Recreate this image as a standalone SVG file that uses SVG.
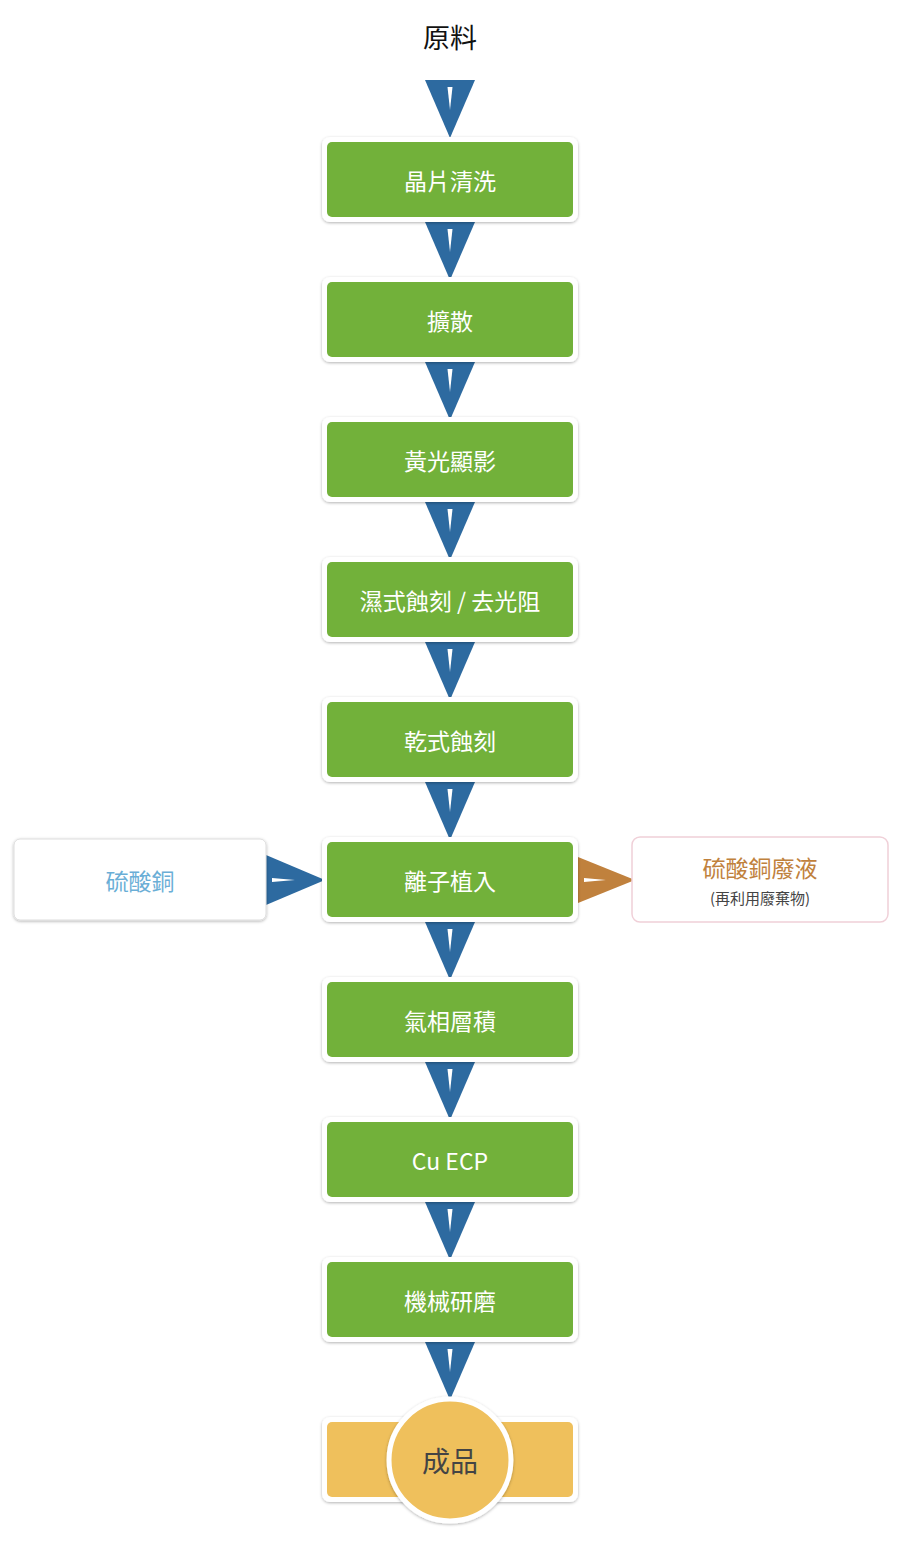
<svg xmlns="http://www.w3.org/2000/svg" width="900" height="1550" viewBox="0 0 900 1550">
<defs>
<filter id="sh" x="-10%" y="-10%" width="120%" height="130%"><feDropShadow dx="0" dy="1" stdDeviation="1.5" flood-color="#000" flood-opacity="0.3"/></filter>
<g id="dn"><polygon points="-25,0 25,0 0,58" fill="#2d6aa0"/><polygon points="-2.5,7 2.5,7 0,30" fill="#fff"/></g>
</defs>
<style>
.o{fill:#fff;filter:url(#sh)}
.g{fill:#72b13a}
.t{font-family:"Noto Sans CJK TC","Liberation Sans",sans-serif;font-size:23px;fill:#fff;text-anchor:middle;dominant-baseline:central}
</style>
<text x="450" y="36" font-family="Noto Sans CJK TC, sans-serif" font-size="27" text-anchor="middle" dominant-baseline="central" fill="#111">原料</text>
<g id="connectors">
<use href="#dn" x="450" y="80"/>
<use href="#dn" x="450" y="222"/>
<use href="#dn" x="450" y="362"/>
<use href="#dn" x="450" y="502"/>
<use href="#dn" x="450" y="642"/>
<use href="#dn" x="450" y="782"/>
<use href="#dn" x="450" y="922"/>
<use href="#dn" x="450" y="1062"/>
<use href="#dn" x="450" y="1202"/>
<use href="#dn" x="450" y="1342"/>
<polygon points="266,855 266,905 325,880" fill="#2d6aa0"/><polygon points="272,878 272,882 295,880" fill="#fff"/>
<polygon points="578,857 578,903 635,880" fill="#c0813d"/><polygon points="584,878 584,882 606,880" fill="#fff"/>
</g>
<g id="n1"><rect class="o" x="322" y="137" width="256" height="85" rx="8"/><rect class="g" x="327" y="142" width="246" height="75" rx="5"/><text class="t" x="450" y="180">晶片清洗</text></g>
<g id="n2"><rect class="o" x="322" y="277" width="256" height="85" rx="8"/><rect class="g" x="327" y="282" width="246" height="75" rx="5"/><text class="t" x="450" y="320">擴散</text></g>
<g id="n3"><rect class="o" x="322" y="417" width="256" height="85" rx="8"/><rect class="g" x="327" y="422" width="246" height="75" rx="5"/><text class="t" x="450" y="460">黃光顯影</text></g>
<g id="n4"><rect class="o" x="322" y="557" width="256" height="85" rx="8"/><rect class="g" x="327" y="562" width="246" height="75" rx="5"/><text class="t" x="450" y="600">濕式蝕刻 / 去光阻</text></g>
<g id="n5"><rect class="o" x="322" y="697" width="256" height="85" rx="8"/><rect class="g" x="327" y="702" width="246" height="75" rx="5"/><text class="t" x="450" y="740">乾式蝕刻</text></g>
<g id="n6"><rect class="o" x="322" y="837" width="256" height="85" rx="8"/><rect class="g" x="327" y="842" width="246" height="75" rx="5"/><text class="t" x="450" y="880">離子植入</text></g>
<g id="n7"><rect class="o" x="322" y="977" width="256" height="85" rx="8"/><rect class="g" x="327" y="982" width="246" height="75" rx="5"/><text class="t" x="450" y="1020">氣相層積</text></g>
<g id="n8"><rect class="o" x="322" y="1117" width="256" height="85" rx="8"/><rect class="g" x="327" y="1122" width="246" height="75" rx="5"/><text class="t" x="450" y="1160">Cu ECP</text></g>
<g id="n9"><rect class="o" x="322" y="1257" width="256" height="85" rx="8"/><rect class="g" x="327" y="1262" width="246" height="75" rx="5"/><text class="t" x="450" y="1300">機械研磨</text></g>
<g id="n10"><rect class="o" x="322" y="1417" width="256" height="85" rx="8"/><rect x="327" y="1422" width="246" height="75" rx="5" fill="#efc05c"/>
<circle cx="450" cy="1460" r="61" fill="#efc05c" stroke="#fff" stroke-width="5" filter="url(#sh)"/>
<text x="450" y="1460" font-family="Noto Sans CJK TC, sans-serif" font-size="28" text-anchor="middle" dominant-baseline="central" fill="#444">成品</text></g>
<g id="src"><rect x="14" y="839" width="252" height="81" rx="6" fill="#fff" stroke="#ddd" filter="url(#sh)"/><text x="140" y="880" font-family="Noto Sans CJK TC, sans-serif" font-size="23" text-anchor="middle" dominant-baseline="central" fill="#6aaed6">硫酸銅</text></g>
<g id="waste"><rect x="632" y="837" width="256" height="85" rx="8" fill="#fff" stroke="#f0d0d8" stroke-width="1.5"/><text x="760" y="867" font-family="Noto Sans CJK TC, sans-serif" font-size="23" text-anchor="middle" dominant-baseline="central" fill="#c0813d">硫酸銅廢液</text><text x="760" y="897" font-family="Noto Sans CJK TC, sans-serif" font-size="15" text-anchor="middle" dominant-baseline="central" fill="#444">(再利用廢棄物)</text></g>
</svg>
